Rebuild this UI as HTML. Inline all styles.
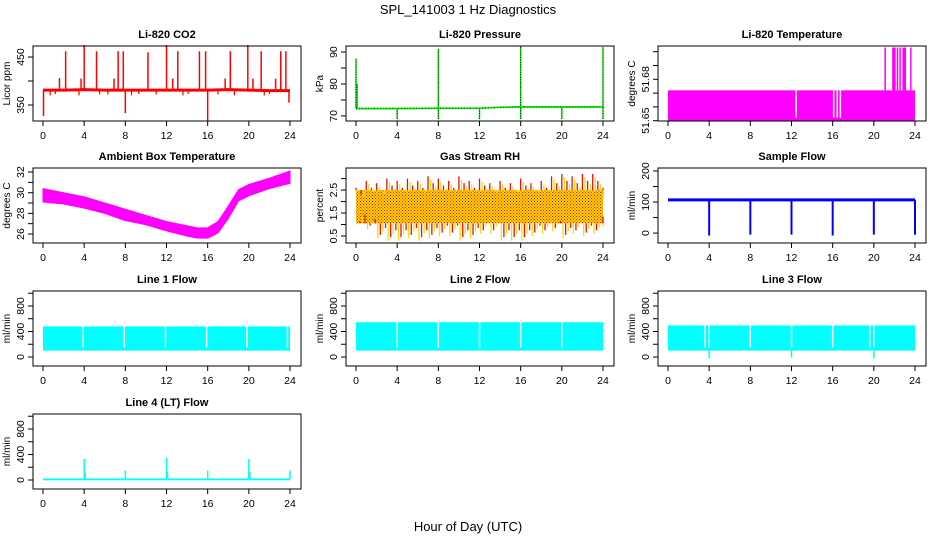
<!DOCTYPE html>
<html><head><meta charset="utf-8"><style>
html,body{margin:0;padding:0;background:#fff}
svg{display:block;font-family:"Liberation Sans",sans-serif}
</style></head><body>
<svg id="c" width="936" height="540" viewBox="0 0 936 540">
<defs>
<pattern id="rhPat" width="3" height="3" patternUnits="userSpaceOnUse">
<rect width="3" height="3" fill="#ffd800"/><rect x="0" y="0" width="1" height="1" fill="#e81010"/><rect x="1.5" y="1.5" width="1" height="1" fill="#e81010"/>
</pattern>
</defs>
<text x="468" y="14" text-anchor="middle" font-size="13">SPL_141003  1 Hz Diagnostics</text>
<text x="468" y="531" text-anchor="middle" font-size="13">Hour of Day (UTC)</text>
</svg>
<script>
// ---- data ----
const xTicks = [0,4,8,12,16,20,24];
const co2BaseHours = [0,2,4,6,8,10,12,14,16,18,20,22,24];
const co2BaseValues = [381,381,382,381,381,381,381,381,381,382,381,380,380];
const co2SpikeHours = [0.05,1.6,2.2,3.7,4.0,5.2,6.9,7.3,7.8,8.0,10.2,12.0,12.6,13.1,15.2,15.8,16.0,17.7,18.2,19.9,20.4,21.2,22.6,23.1,23.6,23.9];
const co2SpikeValues = [327,406,462,405,475,462,405,462,462,333,460,475,405,462,462,462,318,405,462,475,405,462,405,462,462,355];
const co2DipHours = [0.7,1.2,3.5,5.5,6.3,8.6,9.3,11.0,13.6,14.1,17.0,18.6,21.5,22.0];
const co2DipValues = [370,373,370,372,372,370,373,372,370,373,372,370,370,373];
const presBaseHours = [0,0.1,4,8,12,14,16,20,24];
const presBaseValues = [72.3,72.3,72.3,72.4,72.4,72.7,72.8,72.8,72.8];
const presSpikeHours = [0,0.1,4,8,8,12,16,16,20,24,24];
const presSpikeValues = [88,80,69,91,69,69,92,69,69,91.5,69];
const liTempLow = 51.65, liTempHigh = 51.672;
const liGapHours = [12.45,16.1,16.45,16.75];
const liSpikeHours = [21.1,21.85,21.95,22.05,22.3,22.55,22.85,22.95,23.05,23.6];
const liSpikeValues = [51.703,51.703,51.703,51.703,51.703,51.703,51.703,51.703,51.703,51.703];
const ambHours = [0,2,4,6,8,10,12,14,15,16,17,18,19,20,22,24];
const ambUpper = [30.4,30.0,29.6,29.0,28.4,27.8,27.2,26.8,26.6,26.6,27.2,28.7,30.3,30.8,31.4,32.1];
const ambLower = [29.1,28.9,28.5,28.0,27.3,26.9,26.3,25.8,25.6,25.6,26.1,27.5,29.2,29.7,30.4,30.9];
const rhHours = [0,1,2,3,4,5,6,7,8,9,10,11,12,13,14,15,16,17,18,19,20,21,22,23,24];
const rhUpper = [2.6,2.9,2.8,3.0,2.9,3.0,2.9,3.1,3.0,2.9,3.1,2.9,3.0,2.8,2.9,2.8,3.0,2.8,2.9,3.1,3.2,3.1,3.2,3.2,2.6];
const rhLower = [1.0,0.8,0.4,0.3,0.3,0.4,0.3,0.4,0.5,0.5,0.3,0.4,0.6,0.6,0.3,0.3,0.3,0.5,0.6,0.7,0.4,0.6,0.5,0.6,0.9];
const rhCoreHigh = 2.5, rhCoreLow = 1.05;
const sampleBase = 107;
const sampleDropHours = [4,8,12,16,20,24];
const sampleDropValues = [-8,-5,-5,-8,-5,-5];
const line1Low = 100, line1High = 480;
const line1Gaps = [3.9,7.9,11.9,15.9,19.8,23.75];
const line2Low = 100, line2High = 545;
const line2Gaps = [4,8,12,16,20];
const line3Low = 100, line3High = 495;
const line3Gaps = [3.6,4,8,12,16,19.6,20];
const line3DipHours = [4,12,20];
const line3DipValues = [-20,-10,-20];
const line4Base = 15;
const line4SpikeHours = [4,4.1,8,12,12.1,16,20,20.1,24];
const line4SpikeValues = [330,120,150,350,130,150,330,130,150];

// ---- layout ----
const NS = "http://www.w3.org/2000/svg";
const svg = document.getElementById('c');
const colL = [33,346,658], rowT = [46,168,291,414], W = 268, H = 75;
function el(tag, attrs, parent){const e=document.createElementNS(NS,tag);for(const k in attrs)e.setAttribute(k,attrs[k]);(parent||svg).appendChild(e);return e;}

function panel(col,row,title,ylab,ymin,ymax,yticks,ylabels,name){
  const L=colL[col],T=rowT[row],B=T+H;
  const g=el('g',{});
  
  
  const x=h=>L+10+h/24*(W-21);
  const y=v=>B-(v-ymin)/(ymax-ymin)*H;
  const t=el('text',{x:L+W/2,y:T-8,'text-anchor':'middle','font-size':'11','font-weight':'bold'},g);
  t.textContent=title;
  
  
  const data=el('g',{},g);
  
  
  const box=el('rect',{x:L,y:T,width:W,height:H,fill:'none',stroke:'#000','stroke-width':1},g);
  
  
  const xa=el('g',{},g);
  
  
  el('line',{x1:x(0),x2:x(24),y1:B,y2:B,stroke:'#000'},xa);
  xTicks.forEach(h=>{
    el('line',{x1:x(h),x2:x(h),y1:B,y2:B+5,stroke:'#000'},xa);
    const tx=el('text',{x:x(h),y:B+18,'text-anchor':'middle','font-size':'10.5'},xa);tx.textContent=h;
  });
  const ya=el('g',{},g);
  
  
  el('line',{x1:L,x2:L,y1:y(yticks[0]),y2:y(yticks[yticks.length-1]),stroke:'#000'},ya);
  yticks.forEach((v,i)=>{
    el('line',{x1:L-5,x2:L,y1:y(v),y2:y(v),stroke:'#000'},ya);
    if(ylabels[i]!==''){
      const tx=el('text',{x:L-9,y:y(v),'text-anchor':'middle','font-size':'10.5',transform:`rotate(-90 ${L-9} ${y(v)})`},ya);
      tx.textContent=ylabels[i];
    }
  });
  const yl=el('text',{x:L-23,y:T+H/2,'text-anchor':'middle','font-size':'10',transform:`rotate(-90 ${L-23} ${T+H/2})`},g);
  yl.textContent=ylab;
  
  
  return {x,y,g:data,B,T};
}
function vline(p,h,v1,v2,color,w){return el('line',{x1:p.x(h),x2:p.x(h),y1:p.y(v1),y2:p.y(v2),stroke:color,'stroke-width':w||1},p.g);}
function poly(p,hs,vs,color,w,extra){return el('polyline',Object.assign({points:hs.map((h,i)=>p.x(h)+','+p.y(vs[i])).join(' '),fill:'none',stroke:color,'stroke-width':w||1},extra||{}),p.g);}
function band(p,lo,hi,gaps,color){
  el('rect',{x:p.x(0),y:p.y(hi),width:p.x(24)-p.x(0),height:p.y(lo)-p.y(hi),fill:color},p.g);
  gaps.forEach(h=>el('line',{x1:p.x(h),x2:p.x(h),y1:p.y(hi)-1,y2:p.y(lo)-3,stroke:'#fff','stroke-width':1.5},p.g));
}

// CO2
let p=panel(0,0,'Li-820 CO2','Licor ppm',316.7,473,[350,400,450],['350','','450'],'co2');
co2SpikeHours.forEach((h,i)=>vline(p,h,381,co2SpikeValues[i],'#ff0000',1.5));
co2DipHours.forEach((h,i)=>vline(p,h,381,co2DipValues[i],'#ff0000',1.2));
poly(p,co2BaseHours,co2BaseValues,'#ff0000',3);

// Pressure
p=panel(1,0,'Li-820 Pressure','kPa',68.4,91.9,[70,75,80,85,90],['70','','80','','90'],'pressure');
presSpikeHours.forEach((h,i)=>{vline(p,h,72.5,presSpikeValues[i],'#00ee00',1.5);vline(p,h,72.5,presSpikeValues[i],'#000',0.8).setAttribute('stroke-dasharray','1 1.5');});
poly(p,presBaseHours,presBaseValues,'#00ee00',1.8);
poly(p,presBaseHours,presBaseValues,'#000',0.7,{'stroke-dasharray':'1 2'});

// Li temp
p=panel(2,0,'Li-820 Temperature','degrees C',51.6498,51.7041,[51.65,51.66,51.67,51.68,51.69,51.70],['51.65','','','51.68','',''],'li820-temp');
band(p,liTempLow,liTempHigh,liGapHours,'#ff00ff');
liSpikeHours.forEach((h,i)=>vline(p,h,liTempHigh,liSpikeValues[i],'#ff00ff',1.5));

// Ambient
p=panel(0,1,'Ambient Box Temperature','degrees C',25.13,32.39,[26,27,28,29,30,31,32],['26','','28','','30','','32'],'ambient-temp');
el('polygon',{points:ambHours.map((h,i)=>p.x(h)+','+p.y(ambUpper[i])).concat(ambHours.slice().reverse().map((h,j)=>p.x(h)+','+p.y(ambLower[ambHours.length-1-j]))).join(' '),fill:'#ff00ff',stroke:'#ff00ff'},p.g);

// RH
p=panel(1,1,'Gas Stream RH','percent',0.196,3.46,[0.5,1,1.5,2,2.5,3],['0.5','','1.5','','2.5',''],'gas-rh');
el('rect',{x:p.x(0),y:p.y(rhCoreHigh),width:p.x(24)-p.x(0),height:p.y(rhCoreLow)-p.y(rhCoreHigh),fill:'url(#rhPat)'},p.g);
rhHours.forEach((h,i)=>{
  for(let k=0;k<4;k++){const hh=Math.min(24,h+k*0.25);
    vline(p,hh,rhCoreHigh,rhUpper[i]-k*0.15,k%2?'#ffd800':'#e81010',1.3);
    vline(p,hh+0.12>24?24:hh+0.12,rhCoreLow,rhLower[i]+k*0.15,k%2?'#e81010':'#ffd800',1.3);}
});

// Sample flow
p=panel(2,1,'Sample Flow','ml/min',-32,209.7,[0,50,100,150,200],['0','','100','','200'],'sample-flow');
el('line',{x1:p.x(0),x2:p.x(24),y1:p.y(sampleBase),y2:p.y(sampleBase),stroke:'#0000ff','stroke-width':3},p.g);
sampleDropHours.forEach((h,i)=>vline(p,h,sampleBase,sampleDropValues[i],'#0000ff',2));

const flowTicks=[0,200,400,600,800,1000], flowLabels=['0','','400','','800',''];
// Line 1
p=panel(0,2,'Line 1 Flow','ml/min',-141,1035,flowTicks,flowLabels,'line1-flow');
band(p,line1Low,line1High,line1Gaps,'#00ffff');
// Line 2
p=panel(1,2,'Line 2 Flow','ml/min',-141,1035,flowTicks,flowLabels,'line2-flow');
band(p,line2Low,line2High,line2Gaps,'#00ffff');
// Line 3
p=panel(2,2,'Line 3 Flow','ml/min',-141,1035,flowTicks,flowLabels,'line3-flow');
band(p,line3Low,line3High,line3Gaps,'#00ffff');
line3DipHours.forEach((h,i)=>vline(p,h,line3Low,line3DipValues[i],'#00ffff',1.5));
// Line 4
p=panel(0,3,'Line 4 (LT) Flow','ml/min',-141,1035,flowTicks,flowLabels,'line4-flow');
el('rect',{x:p.x(0),y:p.y(line4Base+10),width:p.x(24)-p.x(0),height:p.y(-5)-p.y(line4Base+10),fill:'#00ffff'},p.g);
line4SpikeHours.forEach((h,i)=>vline(p,h,line4Base,line4SpikeValues[i],'#00ffff',1.5));
</script>
</body></html>
